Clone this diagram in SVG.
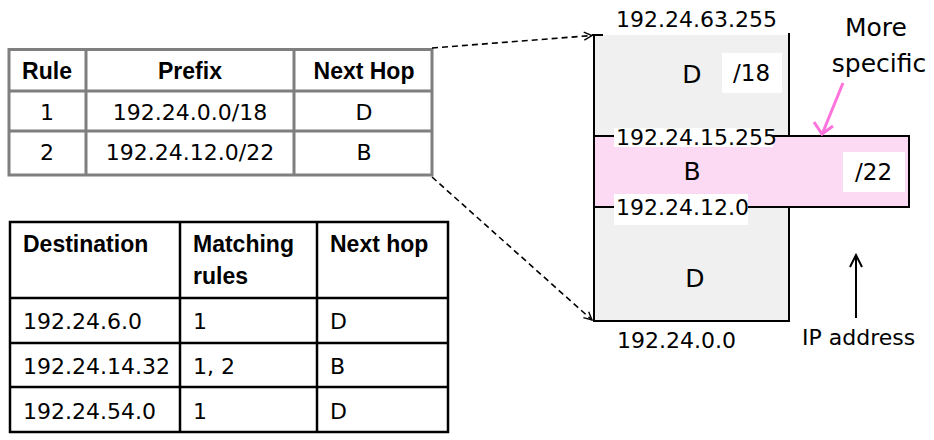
<svg xmlns="http://www.w3.org/2000/svg" width="934" height="440" viewBox="0 0 934 440">
<style>
.t{font-family:"DejaVu Sans",sans-serif;font-size:22px;fill:#000}
.b{font-family:"Liberation Sans",Arial,sans-serif;font-size:23px;font-weight:bold;fill:#000}
.c{text-anchor:middle}
.g1{fill:#fff;stroke:#7f7f7f;stroke-width:3}
.l1{stroke:#7f7f7f;stroke-width:3}
.g2{fill:#fff;stroke:#000;stroke-width:2.5}
.l2{stroke:#000;stroke-width:2.5}
.k{stroke:#000;stroke-width:2;fill:none}
.dash{stroke:#000;stroke-width:1.6;stroke-dasharray:6 4;fill:none}
.big{font-size:25px}
.mid{font-size:23px}
</style>
<defs>
<marker id="av" viewBox="0 0 10 10" refX="9" refY="5" markerWidth="10" markerHeight="10" markerUnits="userSpaceOnUse" orient="auto">
<path d="M1,1 L9,5 L1,9" fill="none" stroke="#000" stroke-width="1.4"/>
</marker>
</defs>

<g id="rule-table">
<rect class="g1" x="9" y="49.5" width="423" height="125.5"/>
<line class="l1" x1="9" y1="91" x2="432" y2="91"/>
<line class="l1" x1="9" y1="131" x2="432" y2="131"/>
<line class="l1" x1="86" y1="49.5" x2="86" y2="175"/>
<line class="l1" x1="294" y1="49.5" x2="294" y2="175"/>
<text class="b c" x="47" y="79">Rule</text>
<text class="b c" x="190" y="79">Prefix</text>
<text class="b c" x="364" y="79">Next Hop</text>
<text class="t c" x="47" y="120">1</text>
<text class="t c" x="190" y="120">192.24.0.0/18</text>
<text class="t c" x="364" y="120">D</text>
<text class="t c" x="47" y="160">2</text>
<text class="t c" x="190" y="160">192.24.12.0/22</text>
<text class="t c" x="364" y="160">B</text>
</g>

<g id="dest-table">
<rect class="g2" x="10" y="222" width="438" height="210"/>
<line class="l2" x1="10" y1="298" x2="448" y2="298"/>
<line class="l2" x1="10" y1="343" x2="448" y2="343"/>
<line class="l2" x1="10" y1="387" x2="448" y2="387"/>
<line class="l2" x1="180" y1="222" x2="180" y2="432"/>
<line class="l2" x1="317" y1="222" x2="317" y2="432"/>
<text class="b" x="23" y="252">Destination</text>
<text class="b" x="193" y="252">Matching</text>
<text class="b" x="193" y="284">rules</text>
<text class="b" x="330" y="252">Next hop</text>
<text class="t" x="23" y="329">192.24.6.0</text>
<text class="t" x="193" y="329">1</text>
<text class="t" x="330" y="329">D</text>
<text class="t" x="23" y="374">192.24.14.32</text>
<text class="t" x="193" y="374">1, 2</text>
<text class="t" x="330" y="374">B</text>
<text class="t" x="23" y="419">192.24.54.0</text>
<text class="t" x="193" y="419">1</text>
<text class="t" x="330" y="419">D</text>
</g>

<g id="range-18">
<rect x="594" y="35" width="195" height="286" fill="#f0f0f0"/>
<line class="k" x1="594" y1="34" x2="594" y2="322"/>
<line class="k" x1="789" y1="33" x2="789" y2="322"/>
<line class="k" x1="593" y1="321" x2="790" y2="321"/>
<line class="k" x1="592" y1="35" x2="603" y2="35"/>
<text class="t" x="616" y="27">192.24.63.255</text>
<text class="t c big" x="692" y="83">D</text>
<rect x="722" y="53" width="60" height="40" fill="#fff"/>
<text class="t mid" x="733" y="81">/18</text>
<text class="t c big" x="695" y="287">D</text>
<text class="t" x="617" y="348">192.24.0.0</text>
</g>

<g id="range-22">
<rect x="594" y="136" width="315" height="71" fill="#fcdaf4" stroke="#000" stroke-width="2"/>
<rect x="614" y="128" width="159" height="19" fill="#fff"/>
<text class="t" x="616" y="145">192.24.15.255</text>
<text class="t c big" x="692" y="180">B</text>
<rect x="843" y="152" width="62" height="40" fill="#fff"/>
<text class="t mid" x="855" y="180">/22</text>
<rect x="614" y="194" width="134" height="31" fill="#fff"/>
<text class="t" x="616" y="215">192.24.12.0</text>
</g>

<g id="more-specific">
<text class="t c big" x="876" y="36">More</text>
<text class="t c big" x="879" y="72">specific</text>
</g>

<g id="ip-address">
<text class="t" x="802" y="345">IP address</text>
</g>

<g id="connectors">
<line class="dash" x1="432" y1="48" x2="592" y2="35.5" marker-end="url(#av)"/>
<line class="dash" x1="432" y1="177" x2="592" y2="320" marker-end="url(#av)"/>
<path d="M843,83 L823,132 M814,122 L822,134 L833,126" fill="none" stroke="#ff73dc" stroke-width="3"/>
<path d="M856,318 L856,256 M850,267 L856,255 L862,267" fill="none" stroke="#000" stroke-width="2"/>
</g>
</svg>
